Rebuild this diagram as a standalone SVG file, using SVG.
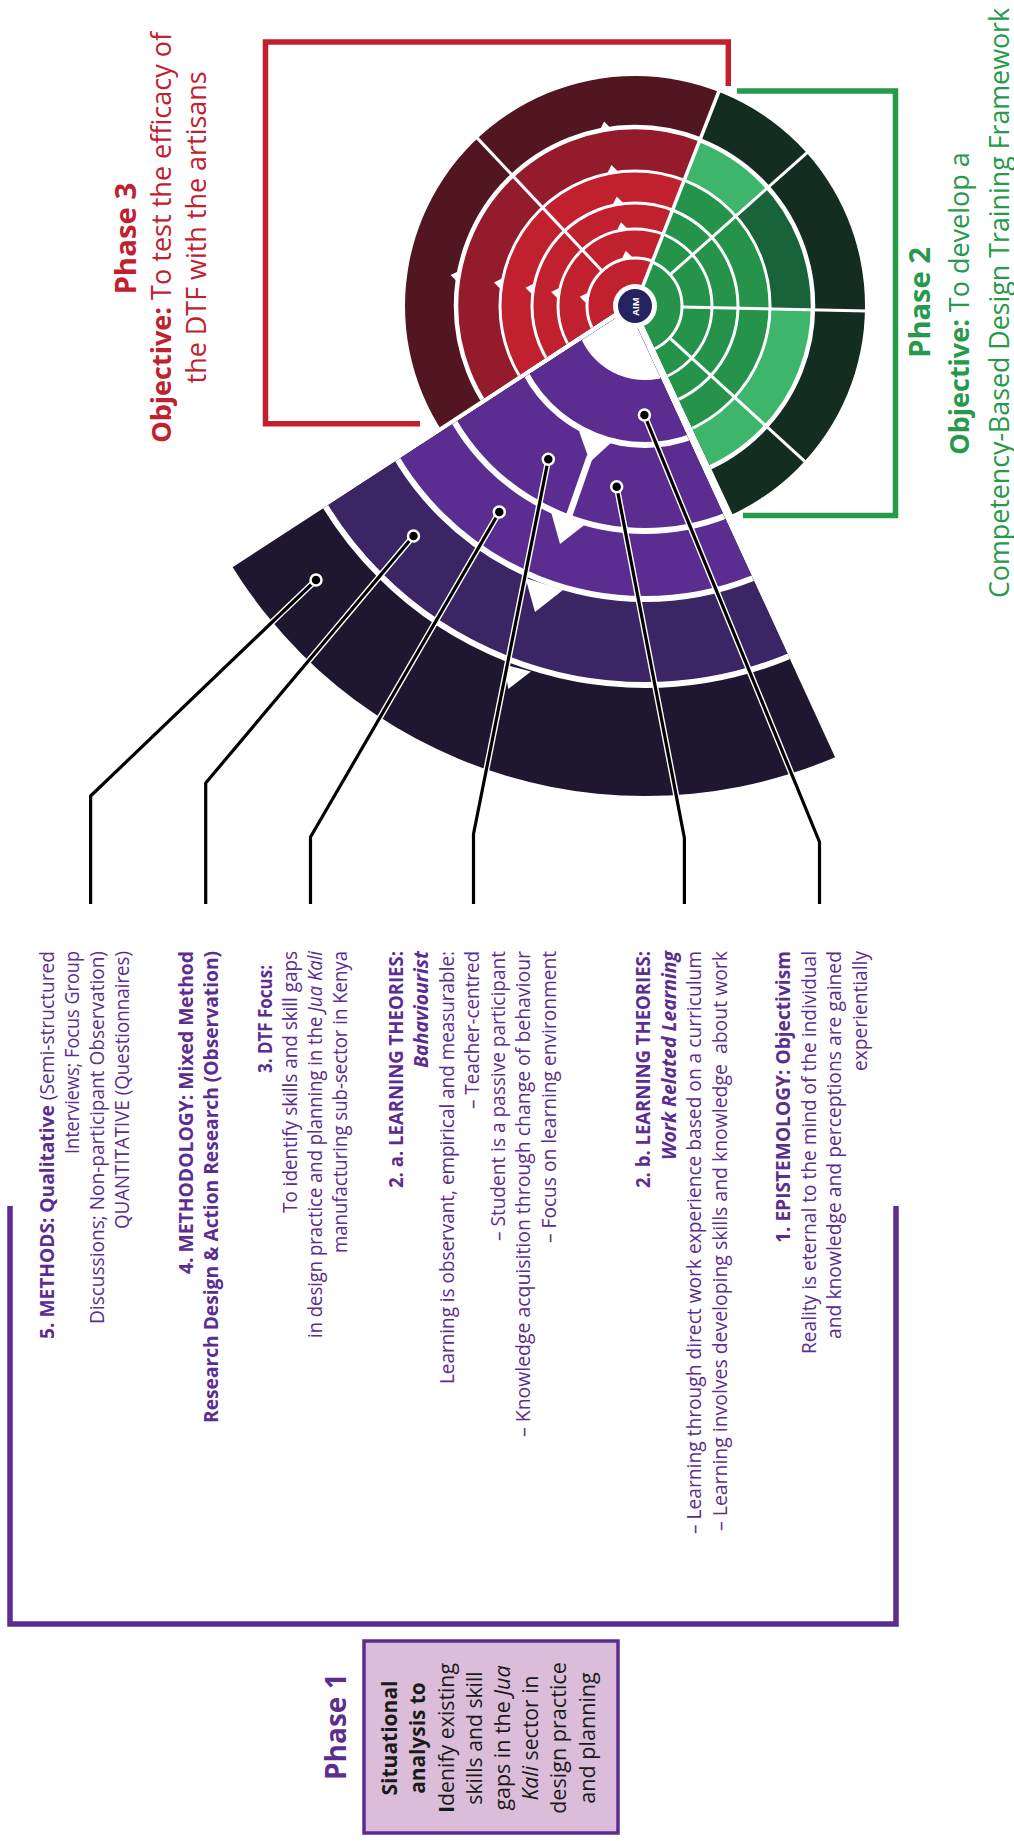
<svg xmlns="http://www.w3.org/2000/svg" width="1014" height="1841" viewBox="0 0 1014 1841">
<style>
.tx{font-family:"Open Sans","Liberation Sans",sans-serif}
.bd{font-size:19.5px;fill:#5c2d91}
.b{font-weight:700}
.i{font-style:italic}
.ph{font-size:28px;font-weight:700}
.ob{font-size:26.5px}
.red{fill:#c1202f}
.grn{fill:#27994a}
.pur{fill:#5c2d91}
.bx{font-size:21.5px;fill:#1a1a1a}
.wl{fill:none;stroke:#fff;stroke-width:3}
.wt{fill:#fff}
.cu{fill:none;stroke:#fff;stroke-width:6;stroke-linejoin:round}
.cl{fill:none;stroke:#000;stroke-width:3.2;stroke-linejoin:round}
.dot{fill:#000;stroke:#fff;stroke-width:2.5}
.br{fill:none;stroke-width:5.5}
</style>
<defs>
<clipPath id="cRed"><polygon points="637.5,297.5 323.5,503.5 150,306 300,-50 635,-120 798.5,-113.3"/></clipPath>
<clipPath id="cGrn"><polygon points="635,306 798.5,-113.3 1100,-50 1100,720 825.9,713.5"/></clipPath>
<clipPath id="cPur"><polygon points="629,309.4 -69,763.4 400,1150 890.7,878"/></clipPath>
</defs>

<!-- Phase 3 wheel (red) -->
<g id="phase3-wheel" clip-path="url(#cRed)">
<circle cx="635" cy="306" r="230" fill="#521620"/>
<circle cx="635" cy="306" r="179" fill="#941b2c"/>
<circle cx="635" cy="306" r="135" fill="#c1202f"/>
<circle class="wl" cx="635" cy="306" r="179" style="stroke-width:4.5"/>
<circle class="wl" cx="635" cy="306" r="135"/>
<circle class="wl" cx="635" cy="306" r="103"/>
<circle class="wl" cx="635" cy="306" r="77"/>
<circle class="wl" cx="635" cy="306" r="48"/>
<line class="wl" x1="602.1" y1="271" x2="476.2" y2="136.9"/>
<polygon class="wt" points="612,129.4 599.2,131.5 604.1,121.6"/>
<polygon class="wt" points="619.3,172.8 606.5,174.9 611.4,165"/>
<polygon class="wt" points="624.6,204.3 611.8,206.5 616.7,196.5"/>
<polygon class="wt" points="628.9,230 616.1,232.1 621,222.2"/>
<polygon class="wt" points="633.7,258.6 620.8,260.7 625.8,250.8"/>
<polygon class="wt" points="460.5,270.2 458.4,283 450.6,275.1"/>
<polygon class="wt" points="503.9,277.5 501.8,290.3 494,282.4"/>
<polygon class="wt" points="535.5,282.8 533.3,295.6 525.5,287.7"/>
<polygon class="wt" points="561.1,287.1 559,299.9 551.2,292"/>
<polygon class="wt" points="589.7,291.8 587.6,304.7 579.8,296.8"/>
</g>

<!-- Phase 2 wheel (green) -->
<g id="phase2-wheel" clip-path="url(#cGrn)">
<circle cx="635" cy="306" r="230" fill="#132e20"/>
<circle cx="635" cy="306" r="178" fill="#3db66b"/>
<path d="M635,306 L767.9,187.6 A178,178 0 0 1 812.96,309.73 Z" fill="#186339"/>
<circle cx="635" cy="306" r="135" fill="#25944a"/>
<circle class="wl" cx="635" cy="306" r="178" style="stroke-width:4.5"/>
<circle class="wl" cx="635" cy="306" r="135"/>
<circle class="wl" cx="635" cy="306" r="103"/>
<circle class="wl" cx="635" cy="306" r="77"/>
<circle class="wl" cx="635" cy="306" r="47"/>
<line class="wl" x1="670.1" y1="274.7" x2="808.2" y2="151.7"/>
<line class="wl" x1="682" y1="307" x2="866.9" y2="310.9"/>
<line class="wl" x1="669.7" y1="337.8" x2="806.1" y2="462.7"/>
</g>
<line class="wl" x1="635" y1="306" x2="721" y2="86" style="stroke-width:3.5"/>

<!-- Phase 1 wheel (purple) -->
<g id="phase1-wheel" clip-path="url(#cPur)">
<circle cx="645" cy="310" r="486" fill="#1f1730"/>
<circle cx="645" cy="310" r="375" fill="#3c2565"/>
<circle cx="645" cy="310" r="289" fill="#5c2d91"/>
<circle class="wl" cx="645" cy="310" r="375" style="stroke-width:6"/>
<circle class="wl" cx="645" cy="310" r="289" style="stroke-width:6"/>
<circle class="wl" cx="645" cy="310" r="221" style="stroke-width:6"/>
<circle class="wl" cx="645" cy="310" r="135" style="stroke-width:6"/>
<circle cx="645" cy="310" r="70" fill="#fff"/>
<polygon class="wt" points="579,431 613,441 590,462"/>
<line x1="590" y1="456" x2="569" y2="516" stroke="#fff" stroke-width="6.5"/>
<polygon class="wt" points="550.5,510 585,524.5 560,544"/>
<polygon class="wt" points="525.5,578 563,590 535,612"/>
<polygon class="wt" points="504,664.5 531,671.5 508.3,689"/>
</g>

<!-- AIM -->
<g id="aim">
<circle cx="635" cy="306" r="22" fill="#fff"/>
<circle cx="635" cy="306" r="17" fill="#24235f"/>
<text class="tx" transform="translate(638.5,306.5) rotate(-90)" text-anchor="middle" font-size="9.5" font-weight="700" fill="#fff">AIM</text>
</g>

<!-- Connectors -->
<g id="connectors">
<g id="conn-methods"><path class="cu" d="M316,580 L90.6,796 V904"/><path class="cl" d="M316,580 L90.6,796 V904"/><circle class="dot" cx="316" cy="580" r="5.5"/></g>
<g id="conn-methodology"><path class="cu" d="M413.5,536 L205.7,783 V904"/><path class="cl" d="M413.5,536 L205.7,783 V904"/><circle class="dot" cx="413.5" cy="536" r="5.5"/></g>
<g id="conn-dtf"><path class="cu" d="M499.3,512 L310.5,837 V904"/><path class="cl" d="M499.3,512 L310.5,837 V904"/><circle class="dot" cx="499.3" cy="512" r="5.5"/></g>
<g id="conn-lt-a"><path class="cu" d="M548.3,459.3 L473.5,834 V904"/><path class="cl" d="M548.3,459.3 L473.5,834 V904"/><circle class="dot" cx="548.3" cy="459.3" r="5.5"/></g>
<g id="conn-lt-b"><path class="cu" d="M616.7,486.7 L684.4,838 V904"/><path class="cl" d="M616.7,486.7 L684.4,838 V904"/><circle class="dot" cx="616.7" cy="486.7" r="5.5"/></g>
<g id="conn-epistemology"><path class="cu" d="M644.4,415 L819.5,842 V904"/><path class="cl" d="M644.4,415 L819.5,842 V904"/><circle class="dot" cx="644.4" cy="415" r="5.5"/></g>
</g>

<!-- Brackets -->
<g id="brackets">
<path class="br" stroke="#c1202f" d="M728.3,86 V42 H265.5 V423.7 H420"/>
<path class="br" stroke="#27994a" d="M737,91 H895.5 V515.5 H743"/>
<path class="br" stroke="#5c2d91" stroke-width="6" d="M10,1206 V1624 H896 V1206"/>
</g>

<!-- Phase 1 box -->
<rect id="phase1-box" x="364" y="1641" width="254" height="192" fill="#dbbcd9" stroke="#5c2d91" stroke-width="3.5"/>

<!-- Rotated labels -->
<g class="tx" transform="translate(0,1841) rotate(-90)">
<g id="phase3-label" class="red">
<text class="ph" x="1546.4" y="136" textLength="112" lengthAdjust="spacingAndGlyphs">Phase 3</text>
<text class="ob" x="1398.2" y="170.5" textLength="411" lengthAdjust="spacingAndGlyphs"><tspan class="b">Objective:</tspan> To test the efficacy of</text>
<text class="ob" x="1457.6" y="205.5" textLength="312" lengthAdjust="spacingAndGlyphs">the DTF with the artisans</text>
</g>
<g id="phase2-label" class="grn">
<text class="ph" x="1483.2" y="930" textLength="110.7" lengthAdjust="spacingAndGlyphs">Phase 2</text>
<text class="ob" x="1386.3" y="969" textLength="302.5" lengthAdjust="spacingAndGlyphs"><tspan class="b">Objective:</tspan> To develop a</text>
<text class="ob" x="1243" y="1009" textLength="590" lengthAdjust="spacingAndGlyphs">Competency-Based Design Training Framework</text>
</g>
<g id="phase1-label">
<text class="ph pur" x="61" y="346" textLength="106.7" lengthAdjust="spacingAndGlyphs">Phase 1</text>
<g class="bx" text-anchor="middle">
<text x="103" y="397" class="b" textLength="115" lengthAdjust="spacingAndGlyphs">Situational</text>
<text x="103" y="425.4" class="b" textLength="111.6" lengthAdjust="spacingAndGlyphs">analysis to</text>
<text x="103" y="453.6" textLength="150" lengthAdjust="spacingAndGlyphs"><tspan class="b">I</tspan>denify existing</text>
<text x="103" y="481.8" textLength="133.3" lengthAdjust="spacingAndGlyphs">skills and skill</text>
<text x="103" y="510" textLength="145" lengthAdjust="spacingAndGlyphs">gaps in the <tspan class="i">Jua</tspan></text>
<text x="103" y="538.2" textLength="125" lengthAdjust="spacingAndGlyphs"><tspan class="i">Kali</tspan> sector in</text>
<text x="103" y="566.4" textLength="151.7" lengthAdjust="spacingAndGlyphs">design practice</text>
<text x="103" y="594.6" textLength="131.7" lengthAdjust="spacingAndGlyphs">and planning</text>
</g>
</g>

<g class="bd" text-anchor="end">
<g id="node-methods">
<text x="890" y="54" textLength="388" lengthAdjust="spacingAndGlyphs"><tspan class="b">5. METHODS: Qualitative</tspan> (Semi-structured</text>
<text x="890" y="79" textLength="203" lengthAdjust="spacingAndGlyphs">Interviews; Focus Group</text>
<text x="890" y="104" textLength="373" lengthAdjust="spacingAndGlyphs">Discussions; Non-participant Observation)</text>
<text x="890" y="129" textLength="278" lengthAdjust="spacingAndGlyphs">QUANTITATIVE (Questionnaires)</text>
</g>
<g id="node-methodology" class="b">
<text x="890" y="193" textLength="323" lengthAdjust="spacingAndGlyphs">4. METHODOLOGY: Mixed Method</text>
<text x="890" y="218" textLength="472" lengthAdjust="spacingAndGlyphs">Research Design &amp; Action Research (Observation)</text>
</g>
<g id="node-dtf-focus">
<text x="876" y="271.5" class="b" textLength="108" lengthAdjust="spacingAndGlyphs">3. DTF Focus:</text>
<text x="890" y="296.5" textLength="262" lengthAdjust="spacingAndGlyphs">To identify skills and skill gaps</text>
<text x="890" y="321.5" textLength="387" lengthAdjust="spacingAndGlyphs">in design practice and planning in the <tspan class="i">Jua Kali</tspan></text>
<text x="890" y="346.5" textLength="302" lengthAdjust="spacingAndGlyphs">manufacturing sub-sector in Kenya</text>
</g>
<g id="node-learning-a">
<text x="890" y="402.5" class="b" textLength="237" lengthAdjust="spacingAndGlyphs">2. a. LEARNING THEORIES:</text>
<text x="890" y="428" class="b i" textLength="117" lengthAdjust="spacingAndGlyphs">Bahaviourist</text>
<text x="890" y="453.5" textLength="433" lengthAdjust="spacingAndGlyphs">Learning is observant, empirical and measurable:</text>
<text x="890" y="479" textLength="158" lengthAdjust="spacingAndGlyphs">– Teacher-centred</text>
<text x="890" y="504.5" textLength="290" lengthAdjust="spacingAndGlyphs">– Student is a passive participant</text>
<text x="890" y="530" textLength="486" lengthAdjust="spacingAndGlyphs">– Knowledge acquisition through change of behaviour</text>
<text x="890" y="555.5" textLength="292" lengthAdjust="spacingAndGlyphs">– Focus on learning environment</text>
</g>
<g id="node-learning-b">
<text x="890" y="650" class="b" textLength="237" lengthAdjust="spacingAndGlyphs">2. b. LEARNING THEORIES:</text>
<text x="890" y="675.5" class="b i" textLength="209" lengthAdjust="spacingAndGlyphs">Work Related Learning</text>
<text x="890" y="701" textLength="583" lengthAdjust="spacingAndGlyphs">– Learning through direct work experience based on a curriculum</text>
<text x="890" y="726.5" textLength="580" lengthAdjust="spacingAndGlyphs">– Learning involves developing skills and knowledge&#160; about work</text>
</g>
<g id="node-epistemology">
<text x="890" y="790" class="b" textLength="292" lengthAdjust="spacingAndGlyphs">1. EPISTEMOLOGY: Objectivism</text>
<text x="890" y="815.5" textLength="403" lengthAdjust="spacingAndGlyphs">Reality is eternal to the mind of the individual</text>
<text x="890" y="841" textLength="388" lengthAdjust="spacingAndGlyphs">and knowledge and perceptions are gained</text>
<text x="890" y="866.5" textLength="120" lengthAdjust="spacingAndGlyphs">experientially</text>
</g>
</g>
</g>
</svg>
